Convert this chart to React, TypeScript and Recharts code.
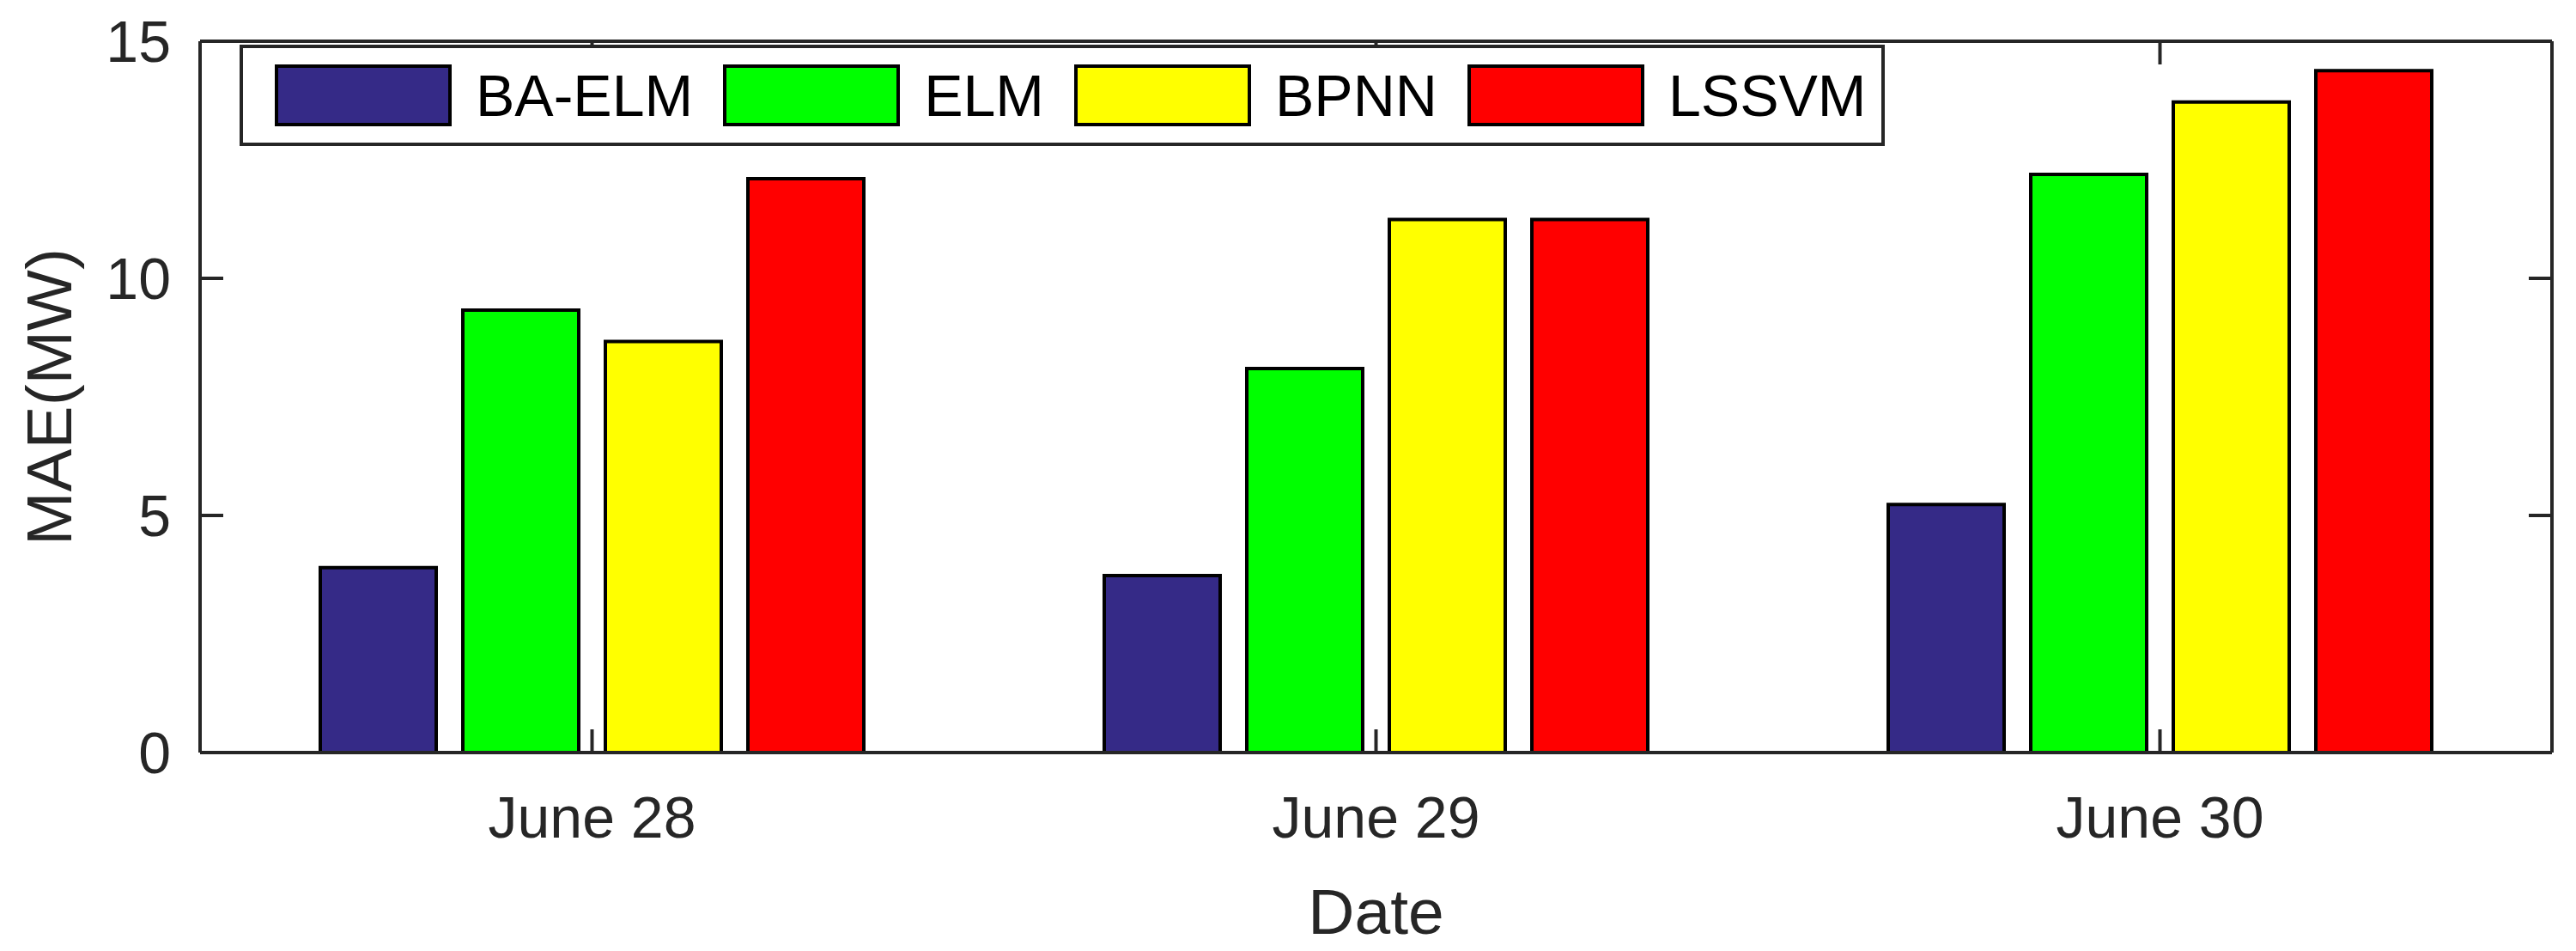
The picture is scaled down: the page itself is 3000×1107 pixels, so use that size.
import React from "react";
import { BarChart, Bar, Line, XAxis, YAxis, Legend, Label } from "recharts";

const dates = ["June 28", "June 29", "June 30"];
const baElm = [3.9, 3.73, 5.23];
const elm = [9.33, 8.1, 12.19];
const bpnn = [8.67, 11.24, 13.72];
const lssvm = [12.1, 11.24, 14.38];
const yTicks = [0, 5, 10, 15];

const series = [
  { key: "baElm", name: "BA-ELM", color: "#352a87" },
  { key: "elm", name: "ELM", color: "#00ff00" },
  { key: "bpnn", name: "BPNN", color: "#ffff00" },
  { key: "lssvm", name: "LSSVM", color: "#ff0000" },
];

const data = dates.map((date, i) => ({
  date,
  baElm: baElm[i],
  elm: elm[i],
  bpnn: bpnn[i],
  lssvm: lssvm[i],
}));

const font = '"Liberation Sans", Arial, Helvetica, sans-serif';
const axisColor = "#262626";
const line = { stroke: axisColor, strokeWidth: 4 };

// keeps the tick marks, drops the labels (box axes on top/right)
const NoLabel = () => <g />;

function BoxLegend({ payload }: any) {
  const order = (v: string) => series.findIndex((s) => s.name === v);
  const items = (payload ?? [])
    .filter((p: any) => order(p.value) >= 0)
    .sort((a: any, b: any) => order(a.value) - order(b.value));
  return (
    <div
      style={{
        boxSizing: "border-box",
        width: 1916,
        height: 118,
        border: `4px solid ${axisColor}`,
        background: "#fff",
        display: "flex",
        alignItems: "center",
        paddingLeft: 37,
        fontFamily: font,
        whiteSpace: "nowrap",
      }}
    >
      {items.map((p: any) => (
        <div
          key={p.value}
          style={{ display: "flex", alignItems: "center", marginRight: 35, flexShrink: 0 }}
        >
          <span
            style={{
              display: "inline-block",
              boxSizing: "border-box",
              width: 206,
              height: 72,
              background: p.color,
              border: "4px solid #000",
              marginRight: 28,
              flexShrink: 0,
            }}
          />
          <span style={{ fontSize: 68, lineHeight: 1, color: "#000" }}>{p.value}</span>
        </div>
      ))}
    </div>
  );
}

export default function App() {
  return (
    <div style={{ width: 3000, height: 1107, background: "#fff" }}>
      <style>{"body{margin:0;}"}</style>
      <BarChart
        width={3000}
        height={1107}
        data={data}
        margin={{ top: 47, right: 27, bottom: 0, left: 0 }}
        barSize={135}
        barGap={31}
      >
        <XAxis
          dataKey="date"
          height={231}
          interval={0}
          axisLine={line}
          tickLine={line}
          tickSize={-27}
          tickMargin={78}
          tick={{ fontSize: 68, fill: axisColor, fontFamily: font }}
        >
          <Label
            content={({ viewBox }: any) => {
              const cx = viewBox.x + viewBox.width / 2;
              const cy = viewBox.y + viewBox.height - 20;
              return (
                <text x={cx} y={cy} textAnchor="middle" fontSize={75} fill={axisColor} fontFamily={font}>
                  Date
                </text>
              );
            }}
          />
        </XAxis>
        <XAxis
          xAxisId="top"
          dataKey="date"
          orientation="top"
          height={1}
          interval={0}
          axisLine={line}
          tickLine={line}
          tickSize={-27}
          tick={<NoLabel />}
        />
        <YAxis
          width={233}
          domain={[0, 15]}
          ticks={yTicks}
          axisLine={line}
          tickLine={line}
          tickSize={-27}
          tickMargin={61}
          tick={{ fontSize: 68, fill: axisColor, fontFamily: font }}
        >
          <Label
            content={({ viewBox }: any) => {
              const cx = viewBox.x + 83;
              const cy = viewBox.y + viewBox.height / 2;
              return (
                <text
                  x={cx}
                  y={cy}
                  transform={`rotate(-90, ${cx}, ${cy})`}
                  textAnchor="middle"
                  fontSize={75}
                  fill={axisColor}
                  fontFamily={font}
                >
                  MAE(MW)
                </text>
              );
            }}
          />
        </YAxis>
        <YAxis
          yAxisId="right"
          orientation="right"
          width={1}
          domain={[0, 15]}
          ticks={yTicks}
          interval={0}
          axisLine={line}
          tickLine={line}
          tickSize={-27}
          tick={<NoLabel />}
        />
        <Legend
          layout="horizontal"
          verticalAlign="middle"
          align="center"
          content={<BoxLegend />}
          wrapperStyle={{ left: 279, top: 52, width: 1916, height: 118 }}
        />
        {series.map((s) => (
          <Bar
            key={s.key}
            dataKey={s.key}
            name={s.name}
            fill={s.color}
            stroke="#000"
            strokeWidth={4}
            isAnimationActive={false}
          />
        ))}
        {/* invisible series so the top/right box axes get their ticks */}
        <Line
          xAxisId="top"
          yAxisId="right"
          dataKey="lssvm"
          stroke="none"
          dot={false}
          activeDot={false}
          legendType="none"
          isAnimationActive={false}
        />
      </BarChart>
    </div>
  );
}
